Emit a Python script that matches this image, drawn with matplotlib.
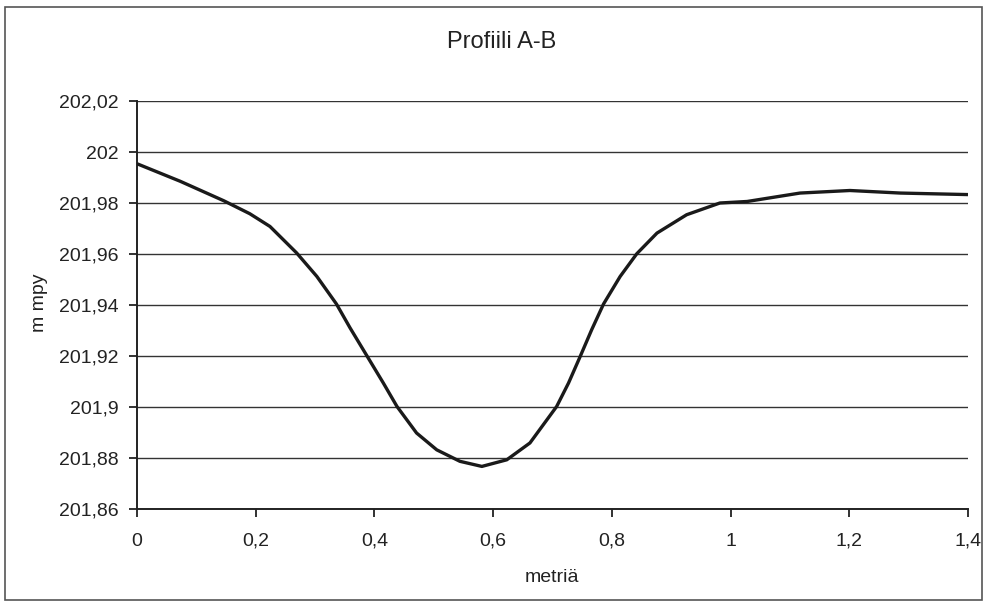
import matplotlib
matplotlib.use('Agg')
import matplotlib.pyplot as plt
from matplotlib.ticker import FuncFormatter, MultipleLocator

# profiilin pisteet (luettu kuvasta)
metria = [0, 0.073, 0.146, 0.190, 0.224, 0.269, 0.303, 0.336, 0.359, 0.387,
          0.415, 0.438, 0.471, 0.505, 0.544, 0.581, 0.623, 0.662, 0.707,
          0.727, 0.747, 0.766, 0.786, 0.814, 0.842, 0.876, 0.926, 0.982,
          1.028, 1.117, 1.201, 1.286, 1.4]
korkeus = [201.9954, 201.9885, 201.9809, 201.9758, 201.9708, 201.9604,
           201.9512, 201.9404, 201.9310, 201.9202, 201.9094, 201.9002,
           201.8898, 201.8832, 201.8787, 201.8767, 201.8793, 201.8859,
           201.9002, 201.9094, 201.9200, 201.9303, 201.9404, 201.9512,
           201.9601, 201.9682, 201.9754, 201.9800, 201.9806, 201.9839,
           201.9849, 201.9839, 201.9833]

plt.rcParams['font.family'] = ['Liberation Sans', 'DejaVu Sans']
plt.rcParams['font.size'] = 14

W, H = 988, 602
fig = plt.figure(figsize=(W / 100, H / 100), dpi=100)
ax = fig.add_axes([137 / W, 1 - 509 / H, (968 - 137) / W, (509 - 101) / H])

ax.plot(metria, korkeus, color='#1a1a1a', linewidth=2.4, zorder=3,
        solid_joinstyle='round', solid_capstyle='butt')

ax.set_xlim(0, 1.4)
ax.set_ylim(201.86, 202.02)
ax.xaxis.set_major_locator(MultipleLocator(0.2))
ax.yaxis.set_major_locator(MultipleLocator(0.02))


def pilkku(v, pos):
    s = f"{v:.2f}".rstrip('0').rstrip('.')
    return s.replace('.', ',')


ax.xaxis.set_major_formatter(FuncFormatter(pilkku))
ax.yaxis.set_major_formatter(FuncFormatter(pilkku))

ax.grid(axis='y', color='#333333', linewidth=1.0)
ax.set_axisbelow(True)
for s in ['top', 'right']:
    ax.spines[s].set_visible(False)
for s in ['left', 'bottom']:
    ax.spines[s].set_color('#222222')
    ax.spines[s].set_linewidth(1.4)
ax.tick_params(axis='both', direction='out', width=1.3,
               colors='#222222', labelcolor='#222222')
ax.tick_params(axis='x', length=6, pad=11)
ax.tick_params(axis='y', length=6, pad=7)

# otsikko ja akselien nimet
fig.text(502 / W, 1 - 48.5 / H, 'Profiili A-B', fontsize=17, ha='center',
         va='baseline', color='#222222')
fig.text(552 / W, 1 - 582 / H, 'metriä', ha='center', va='baseline',
         color='#222222')
fig.text(39 / W, 1 - 303 / H, 'm mpy', rotation=90, ha='center',
         va='center', color='#222222')

fig.add_artist(plt.Rectangle((5 / W, 2 / H), 977 / W, 593 / H, fill=False,
                             transform=fig.transFigure, linewidth=1.2,
                             edgecolor='#555555'))

fig.savefig('out.png', dpi=100)
